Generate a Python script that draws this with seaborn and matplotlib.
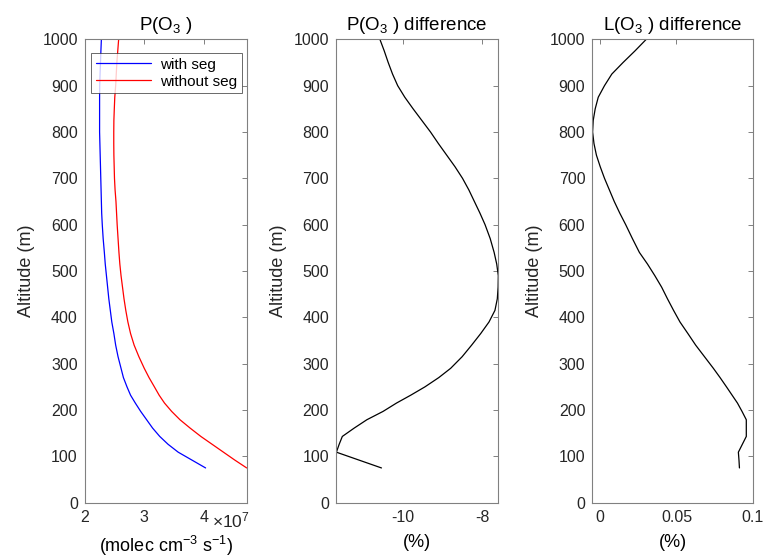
import matplotlib
matplotlib.use("Agg")
import matplotlib.pyplot as plt
import seaborn as sns
import pandas as pd

# ---- data ----
altitude = [75, 92, 109, 126, 143, 161, 179, 197, 215, 232, 250, 270, 290, 315,
            340, 365, 390, 415, 440, 465, 490, 515, 540, 570, 600, 625, 650, 675,
            700, 725, 750, 775, 800, 825, 850, 875, 900, 925, 950, 975, 1000]
# P(O3) in units of 1e7 molec cm-3 s-1
p_with_seg = [4.03, 3.80, 3.57, 3.40, 3.26, 3.14, 3.04, 2.94, 2.85, 2.77, 2.71,
              2.65, 2.61, 2.56, 2.52, 2.49, 2.455, 2.43, 2.405, 2.385, 2.365,
              2.345, 2.33, 2.31, 2.295, 2.285, 2.28, 2.275, 2.27, 2.265, 2.26,
              2.255, 2.25, 2.25, 2.25, 2.25, 2.252, 2.258, 2.265, 2.272, 2.28]
p_without_seg = [4.72, 4.52, 4.33, 4.14, 3.95, 3.77, 3.60, 3.46, 3.34, 3.25, 3.17,
                 3.08, 3.00, 2.91, 2.83, 2.77, 2.725, 2.69, 2.66, 2.635, 2.61,
                 2.59, 2.575, 2.56, 2.545, 2.535, 2.525, 2.51, 2.50, 2.495, 2.49,
                 2.488, 2.488, 2.49, 2.497, 2.505, 2.52, 2.53, 2.54, 2.555, 2.57]
# P(O3) difference (%)
p_diff = [-10.55, -11.12, -11.69, -11.62, -11.54, -11.24, -10.92, -10.51, -10.17,
          -9.81, -9.45, -9.10, -8.80, -8.51, -8.27, -8.04, -7.83, -7.68, -7.62,
          -7.60, -7.595, -7.635, -7.70, -7.80, -7.93, -8.06, -8.20, -8.34, -8.50,
          -8.69, -8.90, -9.11, -9.31, -9.53, -9.75, -9.96, -10.14, -10.27,
          -10.38, -10.48, -10.59]
# L(O3) difference (%)
l_diff = [0.0913, 0.0910, 0.0906, 0.0932, 0.0958, 0.0958, 0.0958, 0.0930, 0.0900,
          0.0865, 0.0828, 0.0786, 0.0742, 0.0684, 0.0626, 0.0575, 0.0523, 0.0481,
          0.0441, 0.0403, 0.0358, 0.0310, 0.0257, 0.0211, 0.0167, 0.0128, 0.0092,
          0.0060, 0.0028, 0.0000, -0.0025, -0.0041, -0.0050, -0.0046, -0.0033,
          -0.0013, 0.0028, 0.0076, 0.0150, 0.0228, 0.0302]

series_labels = ["with seg", "without seg"]
titles = ["P(O$_3$ )", "P(O$_3$ ) difference", "L(O$_3$ ) difference"]
ylabel = "Altitude (m)"
xlabels = ["(molec cm$^{-3}$ s$^{-1}$)", "(%)", "(%)"]
yticks = list(range(0, 1001, 100))
xticks_list = [[2, 3, 4], [-10, -8], [0, 0.05, 0.1]]
xticklabels_list = [["2", "3", "4"], ["-10", "-8"], ["0", "0.05", "0.1"]]

# ---- style ----
sns.set_style("white")
plt.rcParams["font.family"] = ["Liberation Sans", "DejaVu Sans"]
plt.rcParams["mathtext.fontset"] = "custom"
plt.rcParams["mathtext.rm"] = "Liberation Sans"
plt.rcParams["mathtext.it"] = "Liberation Sans:italic"
plt.rcParams["mathtext.bf"] = "Liberation Sans:bold"
plt.rcParams["axes.unicode_minus"] = False

text_color = "#262626"
spine_color = "#808080"

fig = plt.figure(figsize=(7.63, 5.58), dpi=100)
H = 558.0
W = 763.0
bottom = 55.3 / H
height = 463.4 / H
ax1 = fig.add_axes([84.7 / W, bottom, 162.0 / W, height])
ax2 = fig.add_axes([336.0 / W, bottom, 162.3 / W, height])
ax3 = fig.add_axes([592.3 / W, bottom, 160.4 / W, height])
axes = [ax1, ax2, ax3]

df1 = pd.DataFrame({
    "value": p_with_seg + p_without_seg,
    "alt": altitude + altitude,
    "series": [series_labels[0]] * len(altitude) + [series_labels[1]] * len(altitude),
})
sns.lineplot(data=df1, x="value", y="alt", hue="series", sort=False, estimator=None,
             palette=["#0000ff", "#ff0000"], linewidth=0.9, ax=ax1)
sns.lineplot(x=p_diff, y=altitude, sort=False, estimator=None, color="black",
             linewidth=0.9, ax=ax2)
sns.lineplot(x=l_diff, y=altitude, sort=False, estimator=None, color="black",
             linewidth=0.9, ax=ax3)

xlims = [(2.0, 4.72), (-11.70, -7.595), (-0.0052, 0.1)]

for i, ax in enumerate(axes):
    ax.set_xlim(*xlims[i])
    ax.set_ylim(0, 1000)
    ax.set_yticks(yticks)
    ax.set_yticklabels([str(t) for t in yticks])
    ax.set_xticks(xticks_list[i])
    ax.set_xticklabels(xticklabels_list[i])
    ax.tick_params(direction="in", top=True, right=True, length=3.5, width=0.7,
                   colors=spine_color, labelcolor=text_color, labelsize=11.5, pad=5)
    for s in ax.spines.values():
        s.set_visible(True)
        s.set_color(spine_color)
        s.set_linewidth(0.8)
    ax.set_title(titles[i], fontsize=13.5, color="black", pad=7)
    ax.set_ylabel(ylabel, fontsize=13, color=text_color, labelpad=5)
    ax.set_xlabel(xlabels[i], fontsize=13, color="black", labelpad=7)

# exponent label for panel 1
ax1.annotate("$\\times$10$^{7}$", xy=(0.785, 0), xycoords="axes fraction",
             xytext=(0, -5.5), textcoords="offset points", ha="left", va="top",
             fontsize=12.5, color=text_color)

leg = ax1.legend(loc="upper left", bbox_to_anchor=(0.04, 0.97), frameon=True,
                 fancybox=False, fontsize=11, handlelength=3.6, borderpad=0.3,
                 labelspacing=0.2, handletextpad=0.6, borderaxespad=0)
leg.get_frame().set_edgecolor("#262626")
leg.get_frame().set_linewidth(0.6)
for t in leg.get_texts():
    t.set_color("black")

fig.savefig("out.png", dpi=100, facecolor="white")
